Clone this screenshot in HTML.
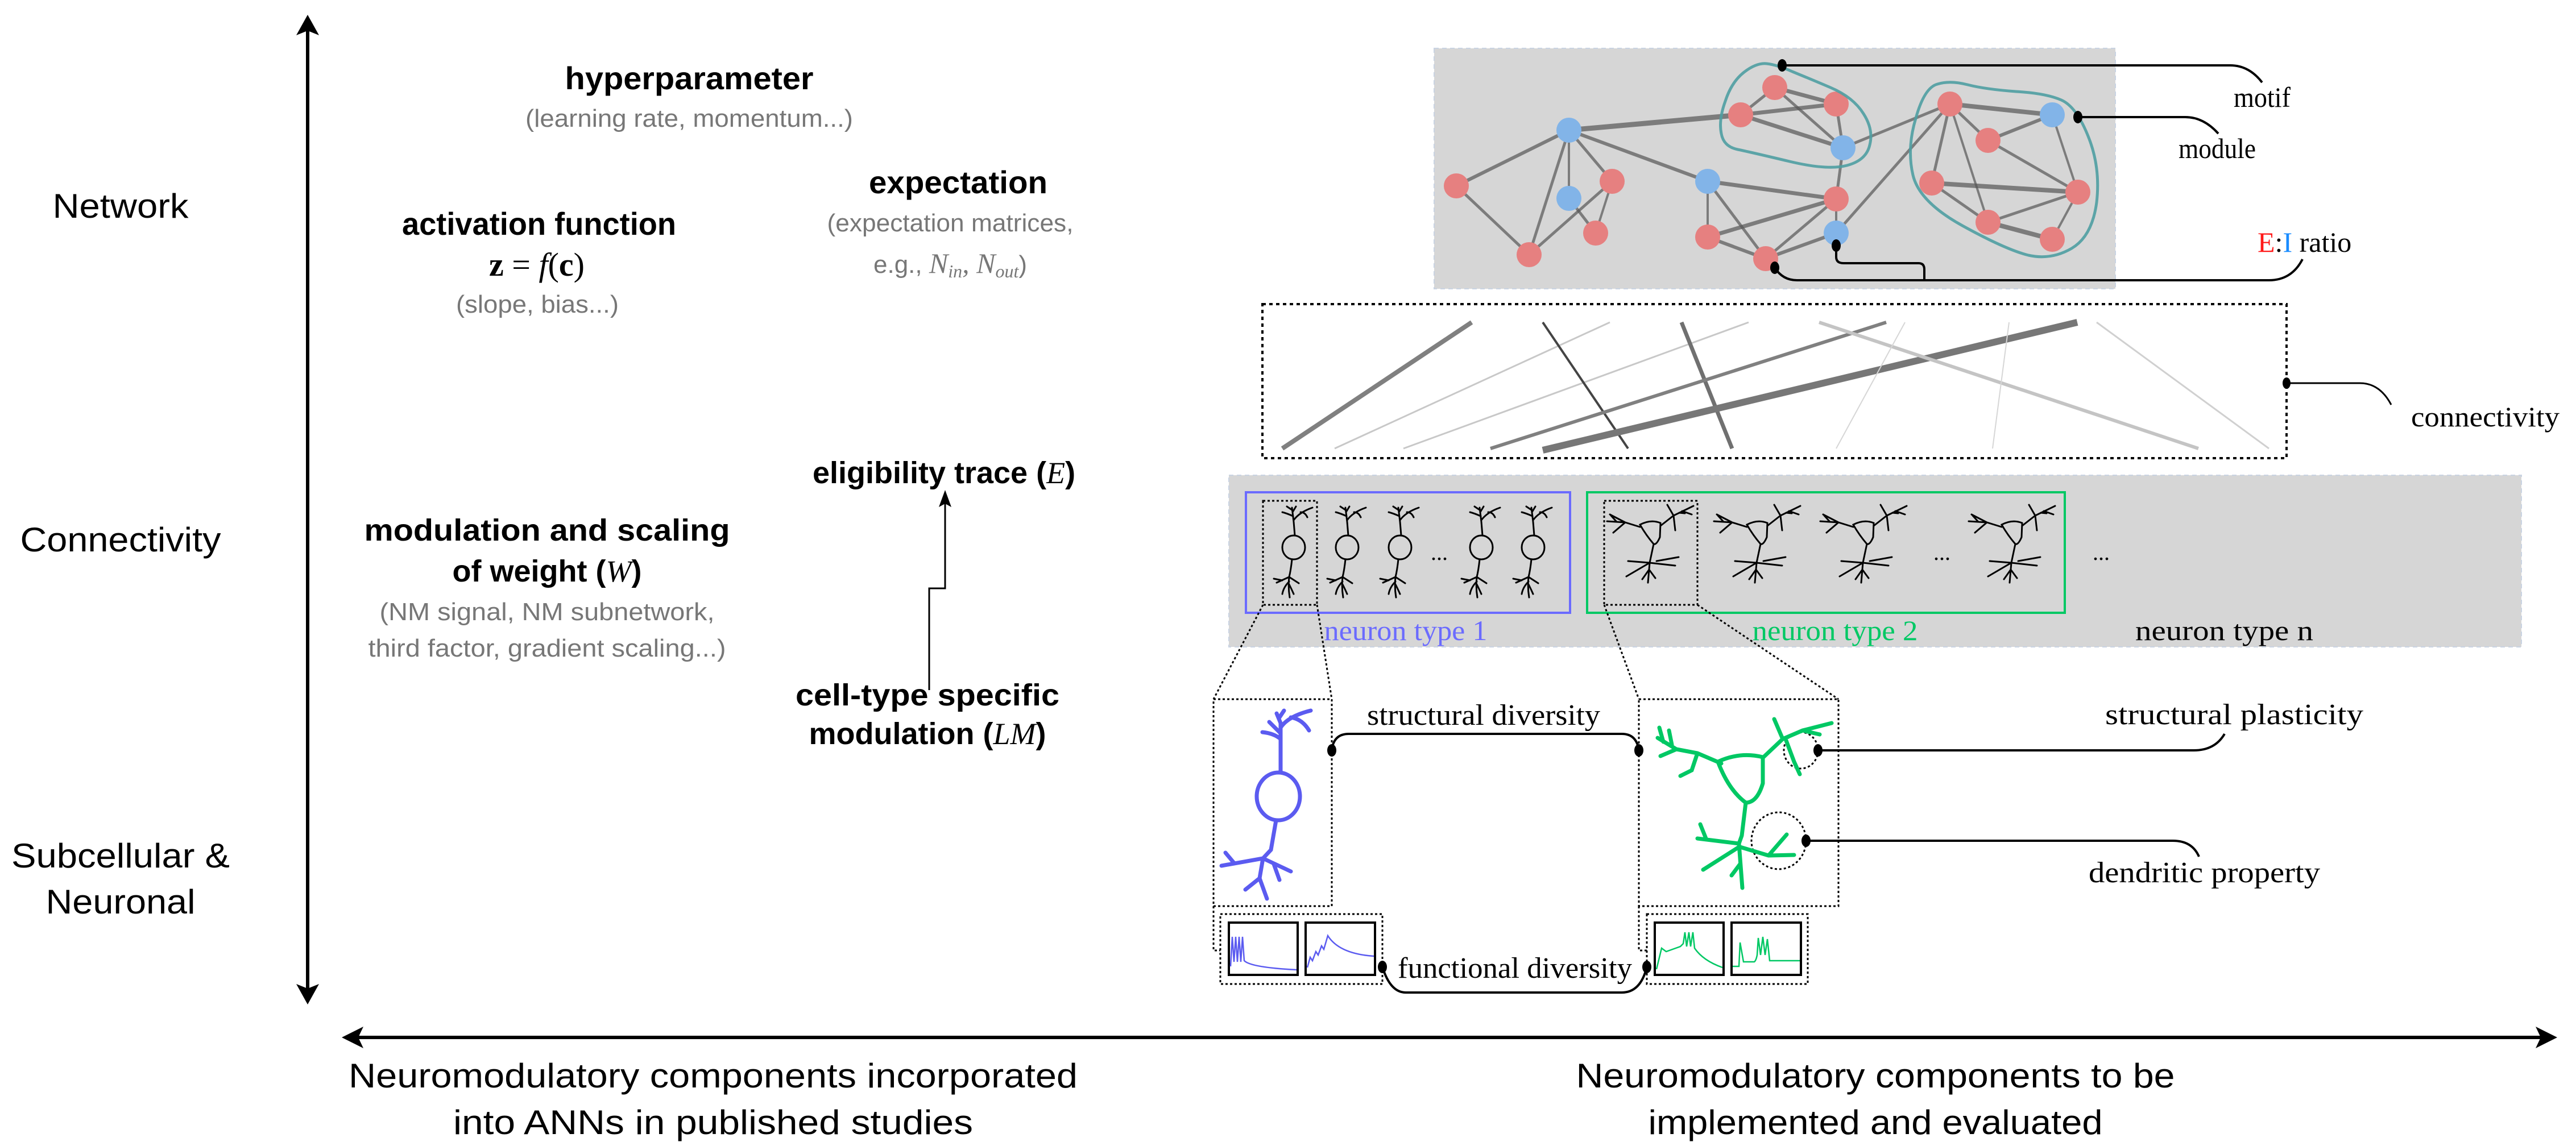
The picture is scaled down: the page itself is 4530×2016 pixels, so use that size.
<!DOCTYPE html>
<html><head><meta charset="utf-8"><style>
html,body{margin:0;padding:0;background:#fff;}
svg{display:block;}
.sans{font-family:"Liberation Sans",sans-serif;}
.serif{font-family:"Liberation Serif",serif;}
</style></head><body>
<svg width="4530" height="2016" viewBox="0 0 4530 2016" xmlns="http://www.w3.org/2000/svg">
<defs>
<g id="n1" fill="none" stroke="#000" stroke-width="3" stroke-linecap="round">
<ellipse cx="0" cy="0" rx="20" ry="21"/>
<path d="M2,-21 L0,-45 L-3,-70 M-1,-55 Q-12,-60 -20,-62 M-3,-66 L-12,-72 M0,-48 Q10,-62 33,-70 M12,-62 Q20,-62 24,-53 M-2,-62 L4,-72"/>
<path d="M-3,21 Q-5,40 -8,52 L-30,62 M-8,52 L9,63 M-8,52 Q-10,70 -7,88 M-8,60 Q-18,70 -20,82 M-8,65 Q-3,75 0,82 M-20,58 L-35,55"/>
</g>
<g id="n2" fill="none" stroke="#000" stroke-width="3" stroke-linecap="round">
<path d="M-19,-14 Q0,-24 17,-17 L16,8 Q10,22 5,20 Q-8,5 -19,-14 Z"/>
<path d="M-19,-10 L-45,-18 L-77,-20 M-45,-18 L-72,-32 M-45,-18 L-66,0 M-60,-19 L-70,-30 M17,-12 L40,-30 L75,-47 M40,-30 L29,-49 M50,-35 L60,-34 M40,-30 L43,-4 M55,-38 L72,-32"/>
<path d="M5,20 L-2,53 L-5,88 M-2,53 L-40,50 M-2,53 L43,58 M-2,53 L-43,77 M10,50 L49,43 M-3,65 L-15,82 M-3,65 L8,80"/>
</g>
</defs>

<!-- axes -->
<line x1="541" y1="45" x2="541" y2="1748" stroke="#000" stroke-width="6"/>
<polygon points="541,26 561,62 541,54 521,62" fill="#000"/>
<polygon points="541,1767 561,1731 541,1739 521,1731" fill="#000"/>
<line x1="620" y1="1825" x2="4478" y2="1825" stroke="#000" stroke-width="6"/>
<polygon points="601,1825 639,1806 630,1825 639,1844" fill="#000"/>
<polygon points="4497,1825 4459,1806 4468,1825 4459,1844" fill="#000"/>

<!-- left labels -->
<g class="sans" font-size="60" text-anchor="middle" fill="#000">
<text x="212" y="383" textLength="239" lengthAdjust="spacingAndGlyphs">Network</text>
<text x="212" y="970" textLength="353" lengthAdjust="spacingAndGlyphs">Connectivity</text>
<text x="212" y="1526" textLength="384" lengthAdjust="spacingAndGlyphs">Subcellular &amp;</text>
<text x="212" y="1607" textLength="263" lengthAdjust="spacingAndGlyphs">Neuronal</text>
<text x="1254" y="1913" textLength="1282" lengthAdjust="spacingAndGlyphs">Neuromodulatory components incorporated</text>
<text x="1254" y="1995" textLength="914" lengthAdjust="spacingAndGlyphs">into ANNs in published studies</text>
<text x="3298" y="1913" textLength="1053" lengthAdjust="spacingAndGlyphs">Neuromodulatory components to be</text>
<text x="3298" y="1995" textLength="799" lengthAdjust="spacingAndGlyphs">implemented and evaluated</text>
</g>

<!-- middle texts -->
<g class="sans" text-anchor="middle">
<text x="1212" y="157" font-size="56" font-weight="bold" textLength="437" lengthAdjust="spacingAndGlyphs">hyperparameter</text>
<text x="1212" y="223" font-size="44" fill="#777" textLength="576" lengthAdjust="spacingAndGlyphs">(learning rate, momentum...)</text>
<text x="948" y="413" font-size="56" font-weight="bold" textLength="482" lengthAdjust="spacingAndGlyphs">activation function</text>
<text x="944" y="485" font-size="58" class="serif"><tspan font-weight="bold">z</tspan> = <tspan font-style="italic">f</tspan>(<tspan font-weight="bold">c</tspan>)</text>
<text x="945" y="550" font-size="44" fill="#777" textLength="286" lengthAdjust="spacingAndGlyphs">(slope, bias...)</text>
<text x="1685" y="340" font-size="56" font-weight="bold" textLength="314" lengthAdjust="spacingAndGlyphs">expectation</text>
<text x="1671" y="407" font-size="44" fill="#777" textLength="433" lengthAdjust="spacingAndGlyphs">(expectation matrices,</text>
<text x="1671" y="480" font-size="44" fill="#777">e.g., <tspan class="serif" font-style="italic" font-size="50">N<tspan font-size="32" dy="8">in</tspan><tspan dy="-8">, N</tspan><tspan font-size="32" dy="8">out</tspan></tspan><tspan dy="-8">)</tspan></text>
<text x="1660" y="850" font-size="54" font-weight="bold">eligibility trace (<tspan class="serif" font-weight="normal" font-style="italic">E</tspan>)</text>
<text x="962" y="951" font-size="54" font-weight="bold" textLength="643" lengthAdjust="spacingAndGlyphs">modulation and scaling</text>
<text x="962" y="1023" font-size="54" font-weight="bold">of weight (<tspan class="serif" font-weight="normal" font-style="italic">W</tspan>)</text>
<text x="962" y="1091" font-size="44" fill="#777" textLength="589" lengthAdjust="spacingAndGlyphs">(NM signal, NM subnetwork,</text>
<text x="962" y="1155" font-size="44" fill="#777" textLength="629" lengthAdjust="spacingAndGlyphs">third factor, gradient scaling...)</text>
<text x="1631" y="1241" font-size="54" font-weight="bold" textLength="464" lengthAdjust="spacingAndGlyphs">cell-type specific</text>
<text x="1631" y="1309" font-size="54" font-weight="bold">modulation (<tspan class="serif" font-weight="normal" font-style="italic">LM</tspan>)</text>
</g>
<path d="M1634,1214 V1035 H1662 V880" fill="none" stroke="#000" stroke-width="3"/>
<polygon points="1662,862 1673,892 1662,886 1651,892" fill="#000"/>

<!-- network box -->
<rect x="2522" y="85" width="1198" height="423" fill="#d6d6d6" stroke="#c9d3e2" stroke-width="2" stroke-dasharray="8,6"/>
<g stroke="#555" stroke-opacity="0.7" stroke-linecap="round">
<line x1="2759" y1="229" x2="3061" y2="202" stroke-width="9"/>
<line x1="3061" y1="202" x2="3121" y2="154" stroke-width="5"/>
<line x1="3061" y1="202" x2="3229" y2="183" stroke-width="7"/>
<line x1="3121" y1="154" x2="3229" y2="183" stroke-width="7"/>
<line x1="3121" y1="154" x2="3241" y2="260" stroke-width="5"/>
<line x1="3061" y1="202" x2="3241" y2="260" stroke-width="7"/>
<line x1="3229" y1="183" x2="3241" y2="260" stroke-width="5"/>
<line x1="3241" y1="260" x2="3429" y2="183" stroke-width="5"/>
<line x1="3241" y1="260" x2="3229" y2="350" stroke-width="5"/>
<line x1="2759" y1="229" x2="2561" y2="327" stroke-width="6"/>
<line x1="2759" y1="229" x2="2689" y2="448" stroke-width="5"/>
<line x1="2759" y1="229" x2="2759" y2="349" stroke-width="4"/>
<line x1="2759" y1="229" x2="2835" y2="319" stroke-width="5"/>
<line x1="2759" y1="229" x2="3003" y2="319" stroke-width="6"/>
<line x1="2561" y1="327" x2="2689" y2="448" stroke-width="5"/>
<line x1="2689" y1="448" x2="2835" y2="319" stroke-width="5"/>
<line x1="2759" y1="349" x2="2806" y2="410" stroke-width="5"/>
<line x1="2835" y1="319" x2="2806" y2="410" stroke-width="4"/>
<line x1="3003" y1="319" x2="3229" y2="350" stroke-width="7"/>
<line x1="3003" y1="319" x2="3003" y2="417" stroke-width="4"/>
<line x1="3003" y1="319" x2="3105" y2="455" stroke-width="5"/>
<line x1="3003" y1="417" x2="3229" y2="350" stroke-width="7"/>
<line x1="3003" y1="417" x2="3105" y2="455" stroke-width="6"/>
<line x1="3105" y1="455" x2="3229" y2="350" stroke-width="5"/>
<line x1="3105" y1="455" x2="3229" y2="410" stroke-width="6"/>
<line x1="3229" y1="350" x2="3229" y2="410" stroke-width="4"/>
<line x1="3229" y1="410" x2="3429" y2="183" stroke-width="5"/>
<line x1="3429" y1="183" x2="3609" y2="202" stroke-width="8"/>
<line x1="3609" y1="202" x2="3496" y2="247" stroke-width="6"/>
<line x1="3429" y1="183" x2="3496" y2="247" stroke-width="5"/>
<line x1="3429" y1="183" x2="3397" y2="322" stroke-width="5"/>
<line x1="3429" y1="183" x2="3496" y2="391" stroke-width="4"/>
<line x1="3496" y1="247" x2="3654" y2="338" stroke-width="5"/>
<line x1="3397" y1="322" x2="3654" y2="338" stroke-width="8"/>
<line x1="3397" y1="322" x2="3496" y2="391" stroke-width="5"/>
<line x1="3496" y1="391" x2="3654" y2="338" stroke-width="5"/>
<line x1="3496" y1="391" x2="3609" y2="421" stroke-width="8"/>
<line x1="3654" y1="338" x2="3609" y2="202" stroke-width="4"/>
<line x1="3654" y1="338" x2="3609" y2="421" stroke-width="4"/>
</g>
<g fill="#e68080">
<circle cx="3121" cy="154" r="22"/><circle cx="3061" cy="202" r="22"/><circle cx="3229" cy="183" r="22"/>
<circle cx="2561" cy="327" r="22"/><circle cx="2835" cy="319" r="22"/><circle cx="2806" cy="410" r="22"/>
<circle cx="2689" cy="448" r="22"/><circle cx="3229" cy="350" r="22"/><circle cx="3003" cy="417" r="22"/>
<circle cx="3105" cy="455" r="22"/><circle cx="3429" cy="183" r="22"/><circle cx="3496" cy="247" r="22"/>
<circle cx="3397" cy="322" r="22"/><circle cx="3654" cy="338" r="22"/><circle cx="3496" cy="391" r="22"/>
<circle cx="3609" cy="421" r="22"/>
</g>
<g fill="#82b4e8">
<circle cx="3241" cy="260" r="22"/><circle cx="2759" cy="229" r="22"/><circle cx="2759" cy="349" r="22"/>
<circle cx="3003" cy="319" r="22"/><circle cx="3229" cy="410" r="22"/><circle cx="3609" cy="202" r="22"/>
</g>
<g fill="none" stroke="#4f9ea2" stroke-width="5" stroke-opacity="0.9">
<path d="M3067,127 Q3045,144 3034,178 Q3022,211 3027,235 Q3031,258 3056,263 Q3080,268 3147,284 Q3214,300 3248,291 Q3282,282 3288,255 Q3295,228 3277,200 Q3259,171 3219,154 Q3179,137 3152,126 Q3125,114 3107,112 Q3089,110 3067,127 Z"/>
<path d="M3460,149 Q3491,157 3545,161 Q3598,164 3625,176 Q3652,188 3673,242 Q3694,295 3687,356 Q3679,416 3643,437 Q3607,458 3567,449 Q3527,439 3451,397 Q3375,355 3364,308 Q3353,261 3369,208 Q3384,154 3407,148 Q3429,141 3460,149 Z"/>
</g>
<g fill="none" stroke="#000" stroke-width="4">
<path d="M3134,115 H3922 Q3955,115 3978,145"/>
<path d="M3654,206 H3843 Q3875,206 3901,235"/>
<path d="M3229,432 V452 Q3229,463 3242,463 H3374 Q3384,463 3384,474 V493"/>
<path d="M3121,471 Q3135,493 3160,493 H3990 Q4030,493 4049,456"/>
</g>
<g fill="#000">
<ellipse cx="3134" cy="115" rx="8" ry="11"/><ellipse cx="3654" cy="206" rx="8" ry="11"/>
<ellipse cx="3229" cy="432" rx="8" ry="11"/><ellipse cx="3121" cy="471" rx="8" ry="11"/>
</g>
<g class="serif" font-size="50">
<text x="3928" y="188" textLength="100" lengthAdjust="spacingAndGlyphs">motif</text>
<text x="3831" y="278" textLength="136" lengthAdjust="spacingAndGlyphs">module</text>
<text x="3970" y="443"><tspan fill="#ff1a1a">E</tspan>:<tspan fill="#1a8cff">I</tspan> ratio</text>
</g>

<!-- connectivity -->
<rect x="2220" y="535" width="1801" height="271" fill="none" stroke="#000" stroke-width="4" stroke-dasharray="6,6"/>
<g stroke-linecap="butt">
<line x1="2255" y1="789" x2="2588" y2="567" stroke="#808080" stroke-width="8"/>
<line x1="2347" y1="789" x2="2831" y2="567" stroke="#c8c8c8" stroke-width="3"/>
<line x1="2468" y1="789" x2="3075" y2="567" stroke="#c8c8c8" stroke-width="3"/>
<line x1="2713" y1="567" x2="2863" y2="789" stroke="#444" stroke-width="4"/>
<line x1="2957" y1="567" x2="3046" y2="789" stroke="#707070" stroke-width="7"/>
<line x1="2621" y1="789" x2="3317" y2="567" stroke="#808080" stroke-width="6"/>
<line x1="2713" y1="792" x2="3653" y2="567" stroke="#777" stroke-width="12"/>
<line x1="3199" y1="567" x2="3866" y2="789" stroke="#c4c4c4" stroke-width="6"/>
<line x1="3350" y1="567" x2="3229" y2="789" stroke="#d6d6d6" stroke-width="2"/>
<line x1="3533" y1="567" x2="3504" y2="789" stroke="#d6d6d6" stroke-width="2"/>
<line x1="3687" y1="567" x2="3990" y2="789" stroke="#d0d0d0" stroke-width="3"/>
</g>
<path d="M4021,674 H4150 Q4185,674 4205,712" fill="none" stroke="#000" stroke-width="3"/>
<ellipse cx="4021" cy="674" rx="7" ry="10" fill="#000"/>
<text x="4240" y="750" class="serif" font-size="50" textLength="261" lengthAdjust="spacingAndGlyphs">connectivity</text>

<!-- neuron types -->
<rect x="2161" y="836" width="2273" height="302" fill="#d6d6d6" stroke="#c9d3e2" stroke-width="2" stroke-dasharray="8,6"/>
<rect x="2191" y="866" width="570" height="212" fill="none" stroke="#6b6bff" stroke-width="4"/>
<rect x="2791" y="866" width="840" height="212" fill="none" stroke="#00c864" stroke-width="4"/>
<use href="#n1" x="2275" y="963"/><use href="#n1" x="2369" y="963"/><use href="#n1" x="2462" y="963"/>
<use href="#n1" x="2605" y="963"/><use href="#n1" x="2696" y="963"/>
<use href="#n2" x="2903" y="937"/><use href="#n2" x="3091" y="937"/><use href="#n2" x="3278" y="937"/><use href="#n2" x="3539" y="937"/>
<g class="serif" font-size="40"><text x="2516" y="985">...</text><text x="3400" y="985">...</text><text x="3680" y="985">...</text></g>
<rect x="2221" y="881" width="95" height="183" fill="none" stroke="#000" stroke-width="3" stroke-dasharray="4,4"/>
<rect x="2821" y="881" width="164" height="183" fill="none" stroke="#000" stroke-width="3" stroke-dasharray="4,4"/>
<g class="serif" font-size="50">
<text x="2472" y="1126" text-anchor="middle" fill="#6b6bff" textLength="287" lengthAdjust="spacingAndGlyphs">neuron type 1</text>
<text x="3227" y="1126" text-anchor="middle" fill="#00c864" textLength="291" lengthAdjust="spacingAndGlyphs">neuron type 2</text>
<text x="3755" y="1126" textLength="313" lengthAdjust="spacingAndGlyphs">neuron type n</text>
</g>

<!-- zoom lines -->
<g fill="none" stroke="#000" stroke-width="3" stroke-dasharray="4,4">
<path d="M2221,1064 L2134,1230 M2316,1064 L2342,1230 M2821,1064 L2882,1230 M2985,1064 L3233,1230"/>
<rect x="2134" y="1230" width="208" height="364"/>
<rect x="2882" y="1230" width="351" height="364"/>
<path d="M2134,1594 V1672 H2146 M2882,1594 V1672 H2896"/>
<rect x="2146" y="1608" width="285" height="123"/>
<rect x="2896" y="1608" width="283" height="123"/>
<ellipse cx="3167" cy="1320" rx="30" ry="32"/>
<ellipse cx="3128" cy="1479" rx="48" ry="50"/>
</g>

<!-- big blue neuron -->
<g fill="none" stroke="#5b5bf0" stroke-width="7" stroke-linecap="round">
<ellipse cx="2248" cy="1401" rx="38" ry="42"/>
<path d="M2252,1359 L2252,1272 L2245,1255 M2252,1300 Q2240,1290 2220,1288 M2252,1290 L2232,1270 M2252,1280 Q2265,1260 2305,1250 M2270,1262 Q2290,1265 2302,1285 M2250,1262 L2258,1250"/>
<path d="M2244,1443 L2235,1495 L2221,1510 L2148,1523 M2221,1510 L2270,1533 M2221,1510 L2215,1545 L2228,1581 M2215,1545 L2190,1565 M2240,1520 L2250,1548 M2170,1518 L2155,1500"/>
</g>
<!-- big green neuron -->
<g fill="none" stroke="#00c864" stroke-width="7" stroke-linecap="round">
<path d="M3021,1340 Q3060,1322 3100,1332 L3100,1378 Q3090,1412 3070,1412 Q3040,1390 3021,1340 Z"/>
<path d="M3027,1343 L2985,1325 L2948,1318 L2915,1298 M2948,1318 L2920,1330 M2985,1325 L2975,1355 L2955,1365 M2925,1305 L2918,1280 M2940,1310 L2935,1285"/>
<path d="M3100,1333 L3135,1300 L3170,1285 L3221,1272 M3135,1300 L3120,1265 M3140,1300 L3155,1340 L3165,1362 M3170,1285 L3200,1292"/>
<path d="M3070,1412 L3063,1470 L3058,1484 L3064,1562 M3058,1484 L2985,1475 M3058,1490 L2995,1530 M3060,1490 L3110,1505 L3155,1504 M3110,1505 L3142,1468 M3060,1520 L3045,1540 M3000,1475 L2990,1450"/>
</g>
<!-- traces -->
<g fill="none" stroke="#000" stroke-width="4">
<rect x="2161" y="1623" width="121" height="92"/><rect x="2296" y="1623" width="122" height="92"/>
<rect x="2910" y="1623" width="121" height="92"/><rect x="3045" y="1623" width="122" height="92"/>
</g>
<g fill="none" stroke-width="2.5">
<path stroke="#5b5bf0" d="M2164,1700 L2167,1648 L2170,1692 L2173,1648 L2176,1692 L2179,1648 L2182,1692 L2185,1648 L2188,1690 Q2200,1702 2280,1706"/>
<path stroke="#5b5bf0" d="M2299,1702 L2304,1684 L2308,1690 L2314,1674 L2318,1680 L2324,1664 L2328,1670 L2335,1646 Q2355,1678 2416,1682"/>
<path stroke="#00c864" d="M2913,1705 L2922,1668 L2930,1674 L2955,1665 L2960,1660 L2963,1640 L2966,1665 L2970,1640 L2973,1665 L2977,1640 L2980,1668 Q2995,1690 3029,1702"/>
<path stroke="#00c864" d="M3047,1700 H3058 L3060,1658 L3066,1692 H3085 Q3088,1690 3090,1680 L3092,1650 L3096,1680 L3100,1648 L3104,1680 L3108,1652 L3112,1690 H3165"/>
</g>

<!-- connectors bottom -->
<g fill="none" stroke="#000" stroke-width="4">
<path d="M2342,1320 Q2345,1291 2372,1291 H2852 Q2878,1291 2882,1320"/>
<path d="M2431,1701 Q2445,1746 2472,1746 H2852 Q2885,1746 2896,1701"/>
<path d="M3197,1320 H3858 Q3895,1320 3912,1291"/>
<path d="M3176,1479 H3821 Q3855,1479 3867,1507"/>
</g>
<g fill="#000">
<ellipse cx="2342" cy="1320" rx="8" ry="11"/><ellipse cx="2882" cy="1320" rx="8" ry="11"/>
<ellipse cx="2431" cy="1701" rx="8" ry="11"/><ellipse cx="2896" cy="1701" rx="8" ry="11"/>
<ellipse cx="3197" cy="1320" rx="8" ry="11"/><ellipse cx="3176" cy="1479" rx="8" ry="11"/>
</g>
<g class="serif" font-size="52">
<text x="2609" y="1275" text-anchor="middle" textLength="410" lengthAdjust="spacingAndGlyphs">structural diversity</text>
<text x="2664" y="1720" text-anchor="middle" textLength="412" lengthAdjust="spacingAndGlyphs">functional diversity</text>
<text x="3702" y="1274" textLength="454" lengthAdjust="spacingAndGlyphs">structural plasticity</text>
<text x="3673" y="1552" textLength="407" lengthAdjust="spacingAndGlyphs">dendritic property</text>
</g>
</svg>
</body></html>
